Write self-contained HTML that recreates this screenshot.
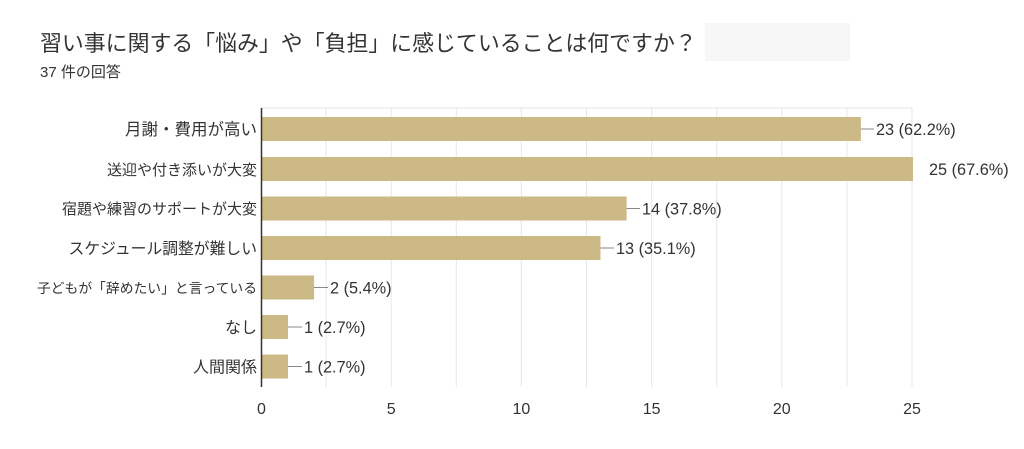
<!DOCTYPE html>
<html><head><meta charset="utf-8"><style>
body{margin:0;background:#fff;width:1024px;height:449px;overflow:hidden}
svg{display:block}
text{font-family:"Liberation Sans","Noto Sans CJK JP",sans-serif;fill:#333}
</style></head><body>
<svg width="1024" height="449" viewBox="0 0 1024 449">
<rect x="705" y="23" width="145" height="38" fill="#f7f7f7"/>
<text x="40" y="51" font-size="21.9" fill="#222">習い事に関する「悩み」や「負担」に感じていることは何ですか？</text>
<text x="40" y="77" font-size="15">37 件の回答</text>
<g stroke="#e6e6e6" stroke-width="1">
<line x1="326.1" y1="108" x2="326.1" y2="387"/><line x1="391.2" y1="108" x2="391.2" y2="387"/>
<line x1="456.3" y1="108" x2="456.3" y2="387"/><line x1="521.4" y1="108" x2="521.4" y2="387"/>
<line x1="586.5" y1="108" x2="586.5" y2="387"/><line x1="651.6" y1="108" x2="651.6" y2="387"/>
<line x1="716.7" y1="108" x2="716.7" y2="387"/><line x1="781.8" y1="108" x2="781.8" y2="387"/>
<line x1="846.9" y1="108" x2="846.9" y2="387"/><line x1="912" y1="108" x2="912" y2="387"/>
<line x1="261" y1="108" x2="912" y2="108"/>
</g>
<g fill="#cdb985">
<rect x="262" y="117" width="598.9" height="24"/>
<rect x="262" y="157" width="651" height="24"/>
<rect x="262" y="196.5" width="364.6" height="24"/>
<rect x="262" y="236" width="338.5" height="24"/>
<rect x="262" y="275.5" width="52.1" height="24"/>
<rect x="262" y="315" width="26" height="24"/>
<rect x="262" y="354.5" width="26" height="24"/>
</g>
<line x1="261.5" y1="108" x2="261.5" y2="387" stroke="#333" stroke-width="1.5"/>
<g font-size="15" text-anchor="end">
<text x="257" y="135" font-size="16.5">月謝・費用が高い</text>
<text x="257" y="175">送迎や付き添いが大変</text>
<text x="257" y="214">宿題や練習のサポートが大変</text>
<text x="257" y="254" font-size="15.8">スケジュール調整が難しい</text>
<text x="257" y="293" font-size="13.8">子どもが「辞めたい」と言っている</text>
<text x="257" y="333" font-size="16">なし</text>
<text x="257" y="372.5" font-size="16">人間関係</text>
</g>
<g stroke="#888" stroke-width="1">
<line x1="861" y1="129" x2="874" y2="129"/>
<line x1="626.6" y1="208.5" x2="640" y2="208.5"/>
<line x1="600.5" y1="248" x2="614" y2="248"/>
<line x1="314" y1="287.5" x2="328" y2="287.5"/>
<line x1="288" y1="327" x2="302" y2="327"/>
<line x1="288" y1="366.5" x2="302" y2="366.5"/>
</g>
<g font-size="16.3">
<text x="876" y="135">23 (62.2%)</text>
<text x="929" y="175">25 (67.6%)</text>
<text x="642" y="214.5">14 (37.8%)</text>
<text x="616" y="254">13 (35.1%)</text>
<text x="330" y="293.5">2 (5.4%)</text>
<text x="304" y="333">1 (2.7%)</text>
<text x="304" y="372.5">1 (2.7%)</text>
</g>
<g font-size="16" text-anchor="middle">
<text x="261.5" y="414">0</text><text x="391.2" y="414">5</text>
<text x="521.4" y="414">10</text><text x="651.6" y="414">15</text>
<text x="781.8" y="414">20</text><text x="912" y="414">25</text>
</g>
</svg>
</body></html>
